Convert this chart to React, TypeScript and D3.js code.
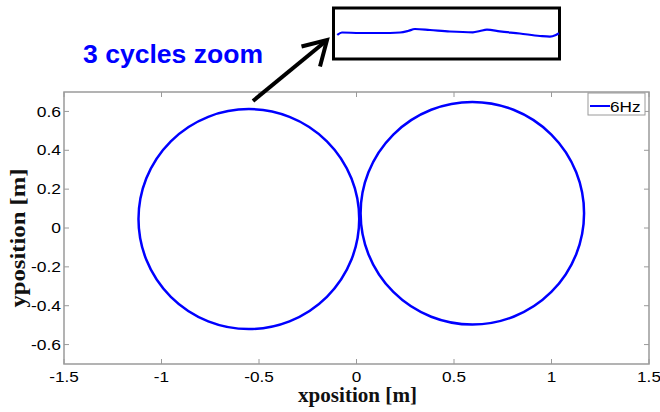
import React from "react";
import * as d3 from "d3";

// Trajectory loops: centre and radius of each lobe, in metres
const loopCx = [-0.552, 0.594];
const loopCy = [0.046, 0.076];
const loopR = [0.566, 0.573];

const xTicks = [-1.5, -1, -0.5, 0, 0.5, 1, 1.5];
const yTicks = [-0.6, -0.4, -0.2, 0, 0.2, 0.4, 0.6];
const xTickLabels = ["-1.5", "-1", "-0.5", "0", "0.5", "1", "1.5"];
const yTickLabels = ["-0.6", "-0.4", "-0.2", "0", "0.2", "0.4", "0.6"];

// Zoomed trace over three cycles (sample index vs. relative deviation)
const zoomT = [0, 2.1, 10.2, 19.3, 28.3, 31.9, 35.0, 41.8, 50.8, 61.2, 64.3, 67.5, 73.3, 82.3, 91.4, 95.9, 98.6, 100];
const zoomV = [0.472, 0.519, 0.509, 0.509, 0.519, 0.547, 0.585, 0.566, 0.538, 0.523, 0.547, 0.572, 0.54, 0.5, 0.453, 0.44, 0.472, 0.504];

const legendLabel = "6Hz";
const seriesColor = "#0000ff";
const axisColor = "#9a9a9a";

const W = 660;
const H = 412;
const plot = { left: 64, right: 649, top: 92, bottom: 364 };

export default function App() {
  const x = d3.scaleLinear().domain([-1.5, 1.5]).range([plot.left, plot.right]);
  const y = d3.scaleLinear().domain([-0.7, 0.7]).range([plot.bottom, plot.top]);

  const inset = { x0: 333.5, y0: 8, x1: 559.5, y1: 59 };
  const zx = d3.scaleLinear().domain([0, 100]).range([337.3, 559]);
  const zy = d3.scaleLinear().domain([0, 1]).range([60, 7]);
  const zoomLine = d3
    .line<number>()
    .x((_, i) => zx(zoomT[i]))
    .y((v) => zy(v))
    .curve(d3.curveMonotoneX)(zoomV) as string;

  const tickFont = "'Liberation Sans', Arial, sans-serif";
  const serif = "'Liberation Serif', 'Times New Roman', serif";
  const tl = 5;

  return (
    <svg
      width={W}
      height={H}
      style={{ position: "absolute", left: 0, top: 0, background: "#fff" }}
    >
      {/* axes box */}
      <rect
        x={plot.left}
        y={plot.top}
        width={plot.right - plot.left}
        height={plot.bottom - plot.top}
        fill="#fff"
        stroke={axisColor}
        strokeWidth={1.5}
      />
      {xTicks.map((t, i) => (
        <g key={"xt" + i}>
          <line x1={x(t)} x2={x(t)} y1={plot.bottom} y2={plot.bottom - tl} stroke={axisColor} />
          <line x1={x(t)} x2={x(t)} y1={plot.top} y2={plot.top + tl} stroke={axisColor} />
          <text
            transform={`translate(${x(t)},${382}) scale(1.16,1)`}
            textAnchor="middle"
            fontFamily={tickFont}
            fontSize={14.8}
            fill="#000"
          >
            {xTickLabels[i]}
          </text>
        </g>
      ))}
      {yTicks.map((t, i) => (
        <g key={"yt" + i}>
          <line x1={plot.left} x2={plot.left + tl} y1={y(t)} y2={y(t)} stroke={axisColor} />
          <line x1={plot.right} x2={plot.right - tl} y1={y(t)} y2={y(t)} stroke={axisColor} />
          <text
            transform={`translate(${plot.left - 3},${y(t) + 5.2}) scale(1.18,1)`}
            textAnchor="end"
            fontFamily={tickFont}
            fontSize={14.8}
            fill="#000"
          >
            {yTickLabels[i]}
          </text>
        </g>
      ))}

      {/* trajectory loops */}
      {loopCx.map((cx, i) => (
        <ellipse
          key={"loop" + i}
          cx={x(cx)}
          cy={y(loopCy[i])}
          rx={x(cx + loopR[i]) - x(cx)}
          ry={y(loopCy[i]) - y(loopCy[i] + loopR[i])}
          fill="none"
          stroke={seriesColor}
          strokeWidth={2.5}
        />
      ))}

      {/* legend */}
      <rect x={588} y={93} width={57} height={22} fill="#fff" stroke={axisColor} strokeWidth={1} />
      <line x1={590} x2={610} y1={106} y2={106} stroke={seriesColor} strokeWidth={2} />
      <text
        transform="translate(610,111.5) scale(1.16,1)"
        fontFamily={tickFont}
        fontSize={14.8}
        fill="#000"
      >
        {legendLabel}
      </text>

      {/* axis titles */}
      <text
        x={357.5}
        y={402}
        textAnchor="middle"
        fontFamily={serif}
        fontWeight="bold"
        fontSize={20}
        textLength={119}
        lengthAdjust="spacingAndGlyphs"
        fill="#111"
      >
        xposition [m]
      </text>
      <text
        transform="translate(25,238) rotate(-90)"
        textAnchor="middle"
        fontFamily={serif}
        fontWeight="bold"
        fontSize={21}
        textLength={139}
        lengthAdjust="spacingAndGlyphs"
        fill="#111"
      >
        yposition [m]
      </text>

      {/* zoom annotation */}
      <text
        x={83}
        y={62.5}
        fontFamily={tickFont}
        fontWeight="bold"
        fontSize={25}
        textLength={180}
        lengthAdjust="spacingAndGlyphs"
        fill={seriesColor}
      >
        3 cycles zoom
      </text>
      <line x1={253} y1={101} x2={326} y2={41} stroke="#000" strokeWidth={4} />
      <polyline
        points="301.5,46.5 327,40 320,66.5"
        fill="none"
        stroke="#000"
        strokeWidth={4}
        strokeLinejoin="miter"
      />
      <rect
        x={inset.x0}
        y={inset.y0}
        width={inset.x1 - inset.x0}
        height={inset.y1 - inset.y0}
        fill="#fff"
        stroke="#000"
        strokeWidth={3}
      />
      <path d={zoomLine} fill="none" stroke={seriesColor} strokeWidth={2.2} />
    </svg>
  );
}
